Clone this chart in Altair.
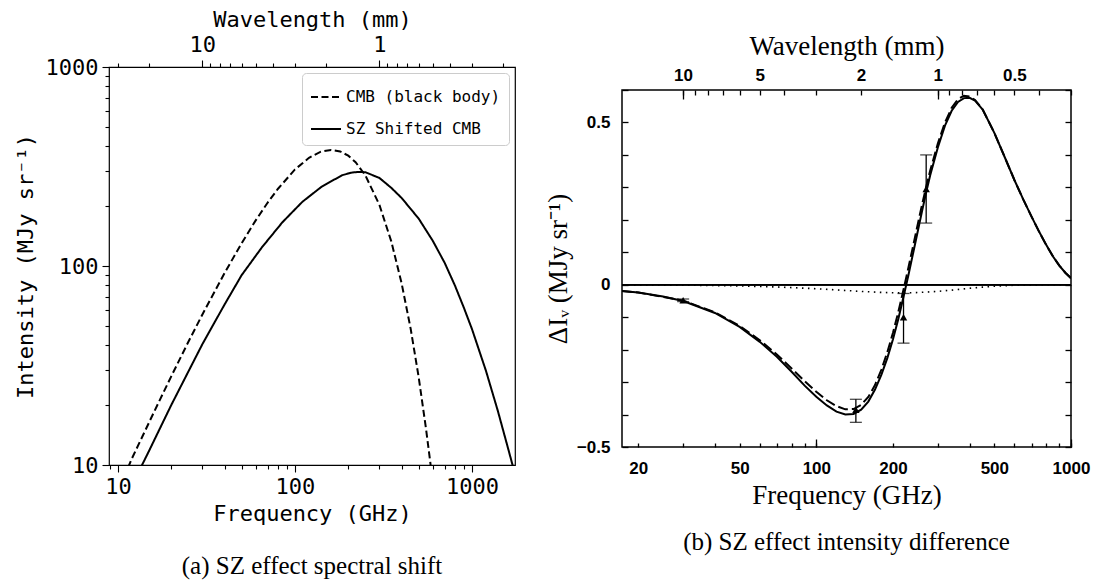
import altair as alt
import pandas as pd

# ---------------- panel (a): spectra ----------------
cmb_freq = [11.4, 12, 14, 16, 20, 25, 30, 40, 50, 60, 70, 80, 100, 120, 140, 160, 180, 200,
            220, 250, 300, 350, 400, 450, 500, 550, 580, 600]
cmb_int = [9.7, 10.8, 14.4, 18.5, 27.9, 41.6, 57.1, 92.1, 130.3, 169.5, 207.8, 243.8, 305.6,
           349.7, 375.2, 383.0, 376.5, 358.4, 332.5, 285.1, 202.7, 133.0, 82.2, 48.6, 27.6,
           15.2, 10.5, 8.2]
sz_freq = [13.3, 15, 20, 25, 30, 40, 50, 65, 85, 110, 142, 185, 210, 229, 250, 300, 350, 400,
           500, 600, 700, 800, 900, 1000, 1200, 1400, 1600, 1750]
sz_int = [9.5, 11.8, 20.0, 29.5, 40.5, 64, 90, 124, 166, 210, 251, 286, 295, 297, 296, 277,
          247, 220, 173, 134, 104, 80, 61.7, 48.2, 29.7, 18.7, 12.1, 9.0]
series_a = ["CMB (black body)", "SZ Shifted CMB"]

# ---------------- panel (b): intensity difference ----------------
sol_freq = [17.26, 20, 25, 30, 40, 50, 60, 70, 80, 90, 100, 110, 120, 130, 140, 150, 160, 170,
            180, 190, 200, 210, 220, 230, 240, 250, 260, 270, 280, 300, 320, 340, 360, 380, 400,
            420, 450, 500, 550, 600, 650, 700, 750, 800, 850, 900, 950, 1000]
sol_val = [-0.019, -0.024, -0.036, -0.050, -0.087, -0.130, -0.176, -0.222, -0.268, -0.311,
           -0.345, -0.372, -0.391, -0.400, -0.398, -0.385, -0.360, -0.323, -0.278, -0.226,
           -0.168, -0.105, -0.037, 0.030, 0.098, 0.163, 0.226, 0.285, 0.337, 0.423, 0.490,
           0.536, 0.563, 0.575, 0.576, 0.567, 0.540, 0.468, 0.392, 0.322, 0.262, 0.210, 0.163,
           0.122, 0.087, 0.059, 0.037, 0.020]
dash_freq = [17.26, 20, 30, 40, 50, 60, 70, 80, 90, 100, 110, 120, 130, 140, 150, 160, 170, 180,
             190, 200, 210, 220, 230, 240, 250, 260, 270, 280, 300, 320, 340, 360, 380, 400, 420,
             450, 500, 550, 600, 650, 700, 750, 800, 850, 900, 950, 1000]
dash_val = [-0.019, -0.024, -0.049, -0.085, -0.127, -0.171, -0.215, -0.258, -0.297, -0.330,
            -0.356, -0.374, -0.384, -0.383, -0.370, -0.346, -0.309, -0.262, -0.208, -0.148,
            -0.083, -0.015, 0.053, 0.120, 0.185, 0.246, 0.302, 0.352, 0.435, 0.500, 0.545,
            0.572, 0.582, 0.580, 0.569, 0.540, 0.468, 0.392, 0.322, 0.262, 0.210, 0.163, 0.122,
            0.087, 0.059, 0.037, 0.020]
dot_freq = [17.26, 30, 50, 70, 100, 130, 150, 180, 200, 220, 250, 300, 350, 400, 450, 500, 600,
            700, 800, 1000]
dot_val = [-0.0005, -0.0013, -0.0037, -0.0069, -0.0123, -0.0176, -0.0206, -0.0237, -0.0247,
           -0.0250, -0.0241, -0.0204, -0.0157, -0.0110, -0.0073, -0.0046, -0.0016, -0.0005,
           -0.00015, 0.0]
pt_freq = [30, 143, 220, 270]
pt_val = [-0.048, -0.385, -0.100, 0.295]
pt_lo = [-0.052, -0.424, -0.180, 0.190]
pt_hi = [-0.044, -0.353, -0.027, 0.400]

# tick lists
a_x_ticks = [9, 10, 20, 30, 40, 50, 60, 70, 80, 90, 100, 200, 300, 400, 500, 600, 700, 800,
             900, 1000]
a_x_major = [10, 100, 1000]
a_y_ticks = [10, 20, 30, 40, 50, 60, 70, 80, 90, 100, 200, 300, 400, 500, 600, 700, 800, 900,
             1000]
a_wl_ticks = [30, 20, 10, 9, 8, 7, 6, 5, 4, 3, 2, 1, 0.9, 0.8, 0.7, 0.6, 0.5, 0.4, 0.3, 0.2]
a_wl_major = [10, 1]
b_x_ticks = [20, 30, 40, 50, 60, 70, 80, 90, 100, 200, 300, 400, 500, 600, 700, 800, 900, 1000]
b_x_labels = [20, 50, 100, 200, 500, 1000]
b_x_long = [100, 1000]
b_wl_ticks = [10, 9, 8, 7, 6, 5, 4, 3, 2, 1, 0.9, 0.8, 0.7, 0.6, 0.5, 0.4, 0.3]
b_wl_labels = [10, 5, 2, 1, 0.5]
b_wl_long = [10, 1]
b_y_ticks = [-0.5, -0.4, -0.3, -0.2, -0.1, 0.0, 0.1, 0.2, 0.3, 0.4, 0.5, 0.6]

C = 299.792458  # GHz * mm


def wl2f(ws):
    return [C / w for w in ws]


MONO = "DejaVu Sans Mono"
SERIF = "Liberation Serif"
SANS = "Liberation Sans"

# ================= panel (a) =================
df_a = pd.concat([
    pd.DataFrame({"freq": cmb_freq, "val": cmb_int, "series": series_a[0]}),
    pd.DataFrame({"freq": sz_freq, "val": sz_int, "series": series_a[1]}),
])
ax_scale = alt.Scale(type="log", domain=[8.9, 1750], nice=False)
ay_scale = alt.Scale(type="log", domain=[10, 1000], nice=False)

a_common = dict(domain=False, grid=False, tickColor="black", tickWidth=1.1,
                labelFont=MONO, labelFontSize=22, labelColor="black", labelFlush=False,
                labelOverlap=False, titleFont=MONO, titleFontSize=22, titleFontWeight="normal",
                titleColor="black")

major_test_x = "indexof(%s, datum.value) >= 0" % a_x_major
ax_bottom = alt.Axis(orient="bottom", values=a_x_ticks,
                     labelExpr="%s ? '' + datum.value : ''" % major_test_x,
                     tickSize={"condition": {"test": major_test_x, "value": 7}, "value": 4},
                     labelPadding=4, title="Frequency (GHz)", titlePadding=6, **a_common)
major_test_y = "indexof([10, 100, 1000], datum.value) >= 0"
ax_left = alt.Axis(orient="left", values=a_y_ticks,
                   labelExpr="%s ? '' + datum.value : ''" % major_test_y,
                   tickSize={"condition": {"test": major_test_y, "value": 7}, "value": 4},
                   labelPadding=4, title="Intensity (MJy sr\u207b\u00b9)", titlePadding=8,
                   **a_common)
wl_major_f = wl2f(a_wl_major)
wl_test = "indexof(%s, datum.value) >= 0" % wl_major_f
ax_top = alt.Axis(orient="top", values=wl2f(a_wl_ticks),
                  labelExpr="%s ? format(%r / datum.value, '~g') : ''" % (wl_test, C),
                  tickSize={"condition": {"test": wl_test, "value": 7}, "value": 4},
                  labelPadding=4, title="Wavelength (mm)", titlePadding=2, **a_common)

a_lines = alt.Chart(df_a).mark_line(color="black", strokeWidth=2, clip=True).encode(
    x=alt.X("freq:Q", scale=ax_scale, axis=ax_bottom),
    y=alt.Y("val:Q", scale=ay_scale, axis=ax_left),
    strokeDash=alt.StrokeDash(
        "series:N",
        scale=alt.Scale(domain=series_a, range=[[7, 3.5], [1, 0]]),
        legend=alt.Legend(title=None, orient="top-right", offset=6, fillColor="white",
                          strokeColor="#cccccc", cornerRadius=4, padding=8,
                          labelFont=MONO, labelFontSize=16, labelColor="black",
                          symbolType="stroke", symbolSize=900, symbolStrokeWidth=2,
                          symbolStrokeColor="black", rowPadding=8, labelLimit=400),
    ),
)
a_top = alt.Chart(df_a).mark_point(opacity=0).encode(
    x=alt.X("freq:Q", scale=ax_scale, axis=ax_top),
    y=alt.Y("val:Q", scale=ay_scale, axis=None),
)
left = alt.layer(a_lines, a_top).resolve_scale(x="shared", y="shared").resolve_axis(
    x="independent", y="independent").properties(
    width=406, height=398,
    view=alt.ViewBackground(stroke="black", strokeWidth=1.2),
    title=alt.TitleParams("(a) SZ effect spectral shift", orient="bottom", anchor="middle",
                          font=SERIF, fontSize=25, fontWeight="normal", color="black",
                          offset=30),
)

# ================= panel (b) =================
df_sol = pd.DataFrame({"freq": sol_freq, "val": sol_val})
df_dash = pd.DataFrame({"freq": dash_freq, "val": dash_val})
df_dot = pd.DataFrame({"freq": dot_freq, "val": dot_val})
df_p = pd.DataFrame({"freq": pt_freq, "val": pt_val, "lo": pt_lo, "hi": pt_hi})

bx_scale = alt.Scale(type="log", domain=[17.26, 1000], nice=False)
by_scale = alt.Scale(domain=[-0.5, 0.6], nice=False, zero=False)

b_common = dict(domain=False, grid=False, tickColor="black", tickWidth=1.3,
                labelFont=SANS, labelFontSize=17, labelFontWeight="bold", labelColor="black",
                labelFlush=False, labelOverlap=False, titleFont=SERIF, titleFontSize=27,
                titleFontWeight="normal", titleColor="black")

bx_lab_test = "indexof(%s, datum.value) >= 0" % b_x_labels
bx_short = alt.Axis(orient="bottom", values=b_x_ticks, tickSize=4, offset=-4,
                    labelExpr="%s ? '' + datum.value : ''" % bx_lab_test, labelPadding=13,
                    title="Frequency (GHz)", titlePadding=6, **b_common)
bx_long = alt.Axis(orient="bottom", values=b_x_long, tickSize=8, offset=-8, labels=False,
                   title=None, **b_common)
wl_lab_f = wl2f(b_wl_labels)
bt_lab_test = "indexof(%s, datum.value) >= 0" % wl_lab_f
bt_short = alt.Axis(orient="top", values=wl2f(b_wl_ticks), tickSize=5, offset=-5,
                    labelExpr="%s ? format(%r / datum.value, '~g') : ''" % (bt_lab_test, C),
                    labelPadding=6, title="Wavelength (mm)", titlePadding=6, **b_common)
bt_long = alt.Axis(orient="top", values=wl2f(b_wl_long), tickSize=9, offset=-9, labels=False,
                   title=None, **b_common)
by_left = alt.Axis(orient="left", values=b_y_ticks, tickSize=6, offset=-6,
                   labelExpr="datum.value == -0.5 ? '\u22120.5' : datum.value == 0.5 ? '0.5' : "
                             "datum.value == 0 ? '0' : ''",
                   labelPadding=12, title="\u0394I\u1d65 (MJy sr\u207b\u00b9)", titlePadding=4,
                   **b_common)
by_right = alt.Axis(orient="right", values=b_y_ticks, tickSize=6, offset=-6, labels=False,
                    title=None, **b_common)

b_zero = alt.Chart(df_p).mark_rule(color="black", strokeWidth=1.3).encode(
    y=alt.Y(datum=0, scale=by_scale, axis=None))
b_sol = alt.Chart(df_sol).mark_line(color="black", strokeWidth=2, clip=True).encode(
    x=alt.X("freq:Q", scale=bx_scale, axis=bx_short),
    y=alt.Y("val:Q", scale=by_scale, axis=by_left))
b_dash = alt.Chart(df_dash).mark_line(color="black", strokeWidth=2, strokeDash=[10, 4],
                                      clip=True).encode(
    x=alt.X("freq:Q", scale=bx_scale, axis=None),
    y=alt.Y("val:Q", scale=by_scale, axis=None))
b_dot = alt.Chart(df_dot).mark_line(color="black", strokeWidth=1.6, strokeDash=[1.5, 4.5],
                                    clip=True).encode(
    x=alt.X("freq:Q", scale=bx_scale, axis=None),
    y=alt.Y("val:Q", scale=by_scale, axis=None))
b_err = alt.Chart(df_p).mark_rule(color="black", strokeWidth=1.3).encode(
    x=alt.X("freq:Q", scale=bx_scale, axis=None),
    y=alt.Y("lo:Q", scale=by_scale, axis=None), y2="hi:Q")
b_cap_lo = alt.Chart(df_p).mark_tick(color="black", orient="horizontal", size=12,
                                     thickness=1.3).encode(
    x=alt.X("freq:Q", scale=bx_scale, axis=None),
    y=alt.Y("lo:Q", scale=by_scale, axis=None))
b_cap_hi = alt.Chart(df_p).mark_tick(color="black", orient="horizontal", size=12,
                                     thickness=1.3).encode(
    x=alt.X("freq:Q", scale=bx_scale, axis=None),
    y=alt.Y("hi:Q", scale=by_scale, axis=None))
b_pts = alt.Chart(df_p).mark_point(shape="triangle-up", filled=True, color="black",
                                   size=55, opacity=1).encode(
    x=alt.X("freq:Q", scale=bx_scale, axis=None),
    y=alt.Y("val:Q", scale=by_scale, axis=None))
b_host1 = alt.Chart(df_p).mark_point(opacity=0).encode(
    x=alt.X("freq:Q", scale=bx_scale, axis=bx_long),
    y=alt.Y("val:Q", scale=by_scale, axis=by_right))
b_host2 = alt.Chart(df_p).mark_point(opacity=0).encode(
    x=alt.X("freq:Q", scale=bx_scale, axis=bt_short),
    y=alt.Y("val:Q", scale=by_scale, axis=None))
b_host3 = alt.Chart(df_p).mark_point(opacity=0).encode(
    x=alt.X("freq:Q", scale=bx_scale, axis=bt_long),
    y=alt.Y("val:Q", scale=by_scale, axis=None))

right = alt.layer(b_zero, b_sol, b_dash, b_dot, b_err, b_cap_lo, b_cap_hi, b_pts, b_host1,
                  b_host2, b_host3).resolve_scale(x="shared", y="shared").resolve_axis(
    x="independent", y="independent").properties(
    width=449, height=357,
    view=alt.ViewBackground(stroke="black", strokeWidth=1.5),
    title=alt.TitleParams("(b) SZ effect intensity difference", orient="bottom",
                          anchor="middle", font=SERIF, fontSize=25, fontWeight="normal",
                          color="black", offset=22),
)


def spacer(h):
    return alt.Chart(pd.DataFrame({"s": [0]})).mark_point(opacity=0).encode(
        x=alt.X("s:Q", axis=None), y=alt.Y("s:Q", axis=None)).properties(width=1, height=h)


left_block = alt.vconcat(spacer(1), left, spacing=0).resolve_scale(
    strokeDash="independent").resolve_legend(strokeDash="independent")
right_block = alt.vconcat(spacer(28), right, spacing=0)

chart = alt.hconcat(left_block, right_block, spacing=24).resolve_scale(
    strokeDash="independent").resolve_legend(strokeDash="independent").properties(
    padding={"left": 13, "top": 0, "right": 0, "bottom": 0},
    background="white",
).configure_view(stroke=None)

chart.save("out.html", embed_options={"renderer": "svg", "actions": False})
